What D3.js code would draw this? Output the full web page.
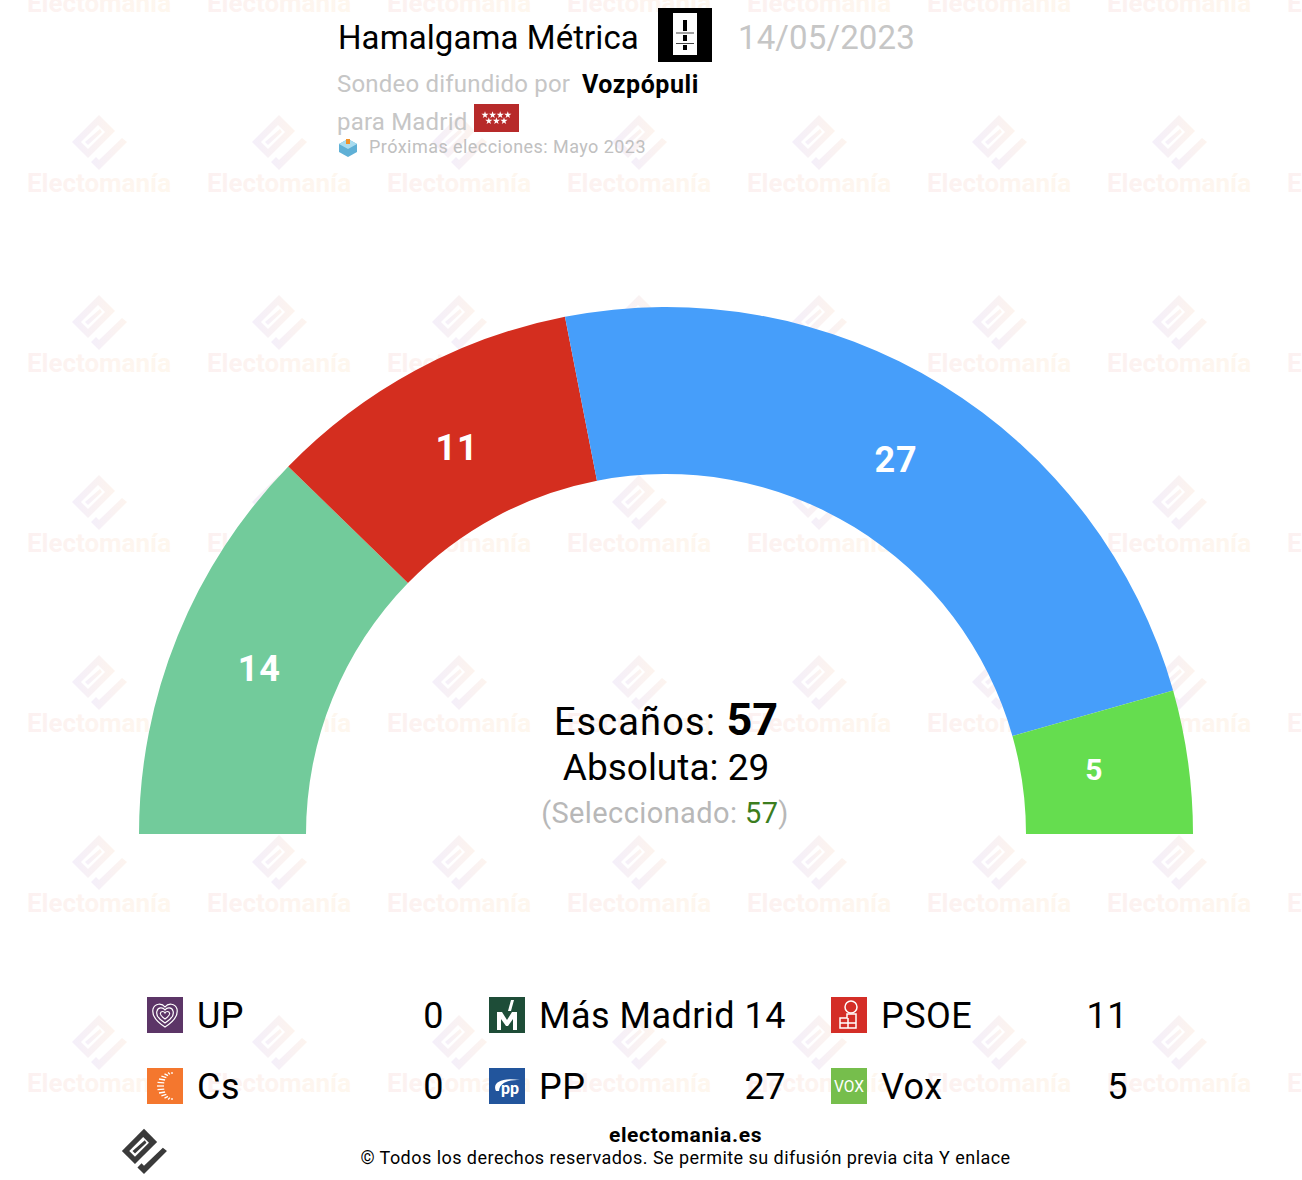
<!DOCTYPE html>
<html>
<head>
<meta charset="utf-8">
<script src="https://cdn.jsdelivr.net/npm/d3@7"></script>
<style>
html, body { margin: 0; padding: 0; background: #fff; }
svg { display: block; }
text { font-family: Roboto, sans-serif; }
</style>
</head>
<body>
<div id="chart"></div>
<script>
// poll data
const parties = ["UP", "Más Madrid", "PSOE", "Cs", "PP", "Vox"];
const seats = [0, 14, 11, 0, 27, 5];
const arcColors = ["#5c3567", "#72cb9b", "#d42e1f", "#f4772e", "#469efa", "#65dd4f"];
const logoColors = ["#5c3567", "#1e4d38", "#d42e27", "#f4772e", "#22559c", "#76be4c"];
const totalSeats = 57;
const majority = 29;
const selected = 57;

const width = 1302, height = 1180;
const svg = d3.select("#chart").append("svg")
    .attr("width", width)
    .attr("height", height);

const defs = svg.append("defs");
function gradient(id, from, to) {
    const g = defs.append("linearGradient").attr("id", id);
    g.append("stop").attr("offset", "0%").attr("stop-color", from);
    g.append("stop").attr("offset", "100%").attr("stop-color", to);
}
gradient("wmText", "#fcf1f1", "#fef7ee");
gradient("wmIcon", "#f4effa", "#fdf4ee");

// electomania mark, centred on 0,0
function drawMark(g, fill, inner) {
    g.append("path")
        .attr("d", "M0,-27L16,-11L-11,16L-27,0Z")
        .attr("fill", fill);
    g.append("path")
        .attr("d", "M-1,-17L6,-10L-11,7L-18,0Z")
        .attr("fill", inner);
    g.append("path")
        .attr("d", "M1,-13L3,-10L-11,3L-14,0Z")
        .attr("fill", fill);
    g.append("path")
        .attr("d", "M23,-4L28,0L0,28L-8,20L-3,15L0,18Z")
        .attr("fill", fill);
}

// watermark tiles
const wmX = d3.range(-81, 1400, 180);
const wmY = d3.range(-38, 1200, 180);
const wm = svg.append("g");
wmY.forEach(y => wmX.forEach(x => {
    const t = wm.append("g").attr("transform", `translate(${x},${y})`);
    drawMark(t.append("g"), "url(#wmIcon)", "#fff");
    t.append("text")
        .attr("y", 50)
        .attr("text-anchor", "middle")
        .attr("font-size", 26)
        .attr("font-weight", 700)
        .attr("fill", "url(#wmText)")
        .text("Electomanía");
}));

// gauge
const cx = 666, cy = 834, outerR = 527, innerR = 360;
const pie = d3.pie().sort(null).startAngle(-Math.PI / 2).endAngle(Math.PI / 2);
const arc = d3.arc().innerRadius(innerR).outerRadius(outerR);
const labelArc = d3.arc().innerRadius(439).outerRadius(439);
const smallLabelArc = d3.arc().innerRadius(432).outerRadius(432);
const slices = pie(seats).map((d, i) => Object.assign(d, { color: arcColors[i] }));
const gauge = svg.append("g").attr("transform", `translate(${cx},${cy})`);
gauge.selectAll("path")
    .data(slices.filter(d => d.value > 0))
    .enter().append("path")
    .attr("d", arc)
    .attr("fill", d => d.color);
gauge.selectAll("text")
    .data(slices.filter(d => d.value > 0))
    .enter().append("text")
    .attr("transform", d => `translate(${(d.value < 10 ? smallLabelArc : labelArc).centroid(d)})`)
    .attr("dy", d => d.value < 10 ? "0.18em" : "0.33em")
    .attr("text-anchor", "middle")
    .attr("font-weight", 700)
    .attr("font-size", d => d.value < 10 ? 30 : 36)
    .attr("letter-spacing", d => d.value < 10 ? 0 : 0.8)
    .attr("fill", "#fff")
    .text(d => d.value);

// centre text
const centre = svg.append("g").attr("text-anchor", "middle");
const seatLine = centre.append("text").attr("x", cx).attr("y", 735).attr("font-size", 38);
seatLine.append("tspan").attr("letter-spacing", 1.1).text("Escaños: ");
seatLine.append("tspan").attr("font-weight", 700).attr("font-size", 45).text(totalSeats);
centre.append("text").attr("x", cx).attr("y", 780).attr("font-size", 37)
    .text(`Absoluta: ${majority}`);
const selLine = centre.append("text").attr("x", cx - 1).attr("y", 823).attr("font-size", 29).attr("fill", "#b8b8b8")
    .attr("letter-spacing", 0.4);
selLine.append("tspan").text("(Seleccionado: ");
selLine.append("tspan").attr("fill", "#3c7d1e").text(selected);
selLine.append("tspan").text(")");

// header
const header = svg.append("g");
header.append("text").attr("x", 338).attr("y", 49).attr("font-size", 33).attr("letter-spacing", 0.08)
    .text("Hamalgama Métrica");
header.append("rect").attr("x", 658).attr("y", 8).attr("width", 54).attr("height", 54).attr("fill", "#000");
header.append("rect").attr("x", 673).attr("y", 13).attr("width", 24).attr("height", 42).attr("fill", "#fff");
[[20, 11], [35, 6], [45, 5]].forEach(s => {
    header.append("rect").attr("x", 683).attr("y", s[0]).attr("width", 4).attr("height", s[1]).attr("fill", "#000");
});
[32.5, 43].forEach(y => {
    header.append("rect").attr("x", 676).attr("y", y).attr("width", 18).attr("height", 1).attr("fill", "#444");
});
header.append("text").attr("x", 738).attr("y", 49).attr("font-size", 33).attr("letter-spacing", 0.12)
    .attr("fill", "#c6c6c6").text("14/05/2023");
header.append("text").attr("x", 337).attr("y", 92).attr("font-size", 24).attr("letter-spacing", 0.2)
    .attr("fill", "#c6c6c6").text("Sondeo difundido por");
header.append("text").attr("x", 582).attr("y", 93).attr("font-size", 25).attr("font-weight", 700)
    .attr("letter-spacing", 0.55)
    .text("Vozpópuli");
header.append("text").attr("x", 337).attr("y", 130).attr("font-size", 24).attr("letter-spacing", 0.2)
    .attr("fill", "#c6c6c6").text("para Madrid");
header.append("rect").attr("x", 474).attr("y", 104).attr("width", 45).attr("height", 28).attr("fill", "#b72a2a");
const star = d3.symbol().type(d3.symbolStar).size(16);
[[0, 0], [1, 0], [2, 0], [3, 0], [0.5, 1], [1.5, 1], [2.5, 1]].forEach(s => {
    header.append("path")
        .attr("transform", `translate(${485 + s[0] * 7.6},${115 + s[1] * 6})`)
        .attr("d", star)
        .attr("fill", "#fff");
});
// ballot box
header.append("path").attr("d", "M348,139l9,5v8l-9,5l-9,-5v-8Z").attr("fill", "#5fb0d6");
header.append("path").attr("d", "M348,139l9,5l-9,5l-9,-5Z").attr("fill", "#a9dcef");
header.append("rect").attr("x", 346).attr("y", 139).attr("width", 4).attr("height", 5).attr("fill", "#f0932b");
header.append("text").attr("x", 369).attr("y", 153).attr("font-size", 18).attr("letter-spacing", 0.45)
    .attr("fill", "#c0c0c0").text("Próximas elecciones: Mayo 2023");

// legend, laid out by band scales
const colScale = d3.scaleBand().domain([0, 1, 2]).range([147, 1173]);
const rowScale = d3.scaleBand().domain([0, 1]).range([997, 1139]);
const logoSize = 36;
const item = svg.append("g").selectAll("g")
    .data(parties.map((p, i) => ({ party: p, seats: seats[i], color: logoColors[i], col: i % 3, row: Math.floor(i / 3) })))
    .enter().append("g")
    .attr("transform", d => `translate(${colScale(d.col)},${rowScale(d.row)})`);
item.append("rect")
    .attr("width", logoSize).attr("height", logoSize)
    .attr("fill", d => d.color);
item.append("text")
    .attr("x", 50).attr("y", 31)
    .attr("font-size", 36).attr("letter-spacing", 0.5)
    .text(d => d.party);
item.append("text")
    .attr("x", 297).attr("y", 31)
    .attr("text-anchor", "end")
    .attr("font-size", 36).attr("letter-spacing", 0.5)
    .text(d => d.seats);

// party logos, roughly
const logo = {
    "UP": g => {
        ["M18,30C7,23 5,17 6,12C8,6 15,6 18,10C21,6 28,6 30,12C31,17 29,23 18,30Z",
         "M18,26C10,21 9,17 10,14C11,10 16,10 18,13C20,10 25,10 26,14C27,17 26,21 18,26Z",
         "M18,22C14,19 13,17 13.5,16C14,14 17,14 18,16C19,14 22,14 22.5,16C23,17 22,19 18,22Z"].forEach(p => {
            g.append("path").attr("d", p)
                .attr("fill", "none").attr("stroke", "#fff").attr("stroke-width", 1.2);
        });
    },
    "Más Madrid": g => {
        g.append("path").attr("d", "M8,33V15H13L18,23L23,15H28V33H24V22L19,29H17L12,22V33Z").attr("fill", "#fff");
        g.append("path").attr("d", "M22,3L25,3L22,14L19,14Z").attr("fill", "#fff");
    },
    "PSOE": g => {
        g.append("circle").attr("cx", 20).attr("cy", 10).attr("r", 6).attr("fill", "none").attr("stroke", "#fff").attr("stroke-width", 1.5);
        g.append("path").attr("d", "M16,17H25V31H9V21H16ZM9,26H25M17,21V31")
            .attr("fill", "none").attr("stroke", "#fff").attr("stroke-width", 1.5);
    },
    "Cs": g => {
        d3.range(-90, 91, 15).forEach(a => {
            const r = a * Math.PI / 180;
            g.append("line")
                .attr("x1", 25 - 8 * Math.cos(r)).attr("y1", 18 + 12 * Math.sin(r))
                .attr("x2", 25 - 15 * Math.cos(r)).attr("y2", 18 + 14 * Math.sin(r))
                .attr("stroke", "#fff").attr("stroke-width", 1.3);
        });
    },
    "PP": g => {
        g.append("path").attr("d", "M7,23C3,15 12,9 31,12C22,12 11,13 10,23Z").attr("fill", "#fff");
        g.append("text").attr("x", 21).attr("y", 26).attr("text-anchor", "middle")
            .attr("font-size", 16).attr("font-weight", 700).attr("fill", "#fff").text("pp");
    },
    "Vox": g => {
        g.append("text").attr("x", 18).attr("y", 24).attr("text-anchor", "middle")
            .attr("font-size", 17).attr("fill", "#fff").attr("textLength", 30).attr("lengthAdjust", "spacingAndGlyphs").text("VOX");
    }
};
item.each(function(d) { logo[d.party](d3.select(this).append("g")); });

// footer
drawMark(svg.append("g").attr("transform", "translate(144,1151) scale(0.82)"), "#3a3a3a", "#fff");
svg.append("text").attr("x", 685.5).attr("y", 1142).attr("text-anchor", "middle")
    .attr("font-size", 21).attr("font-weight", 700).attr("letter-spacing", 0.65)
    .text("electomania.es");
svg.append("text").attr("x", 685.5).attr("y", 1164).attr("text-anchor", "middle")
    .attr("font-size", 18).attr("letter-spacing", 0.46)
    .text("© Todos los derechos reservados. Se permite su difusión previa cita Y enlace");
</script>
</body>
</html>
